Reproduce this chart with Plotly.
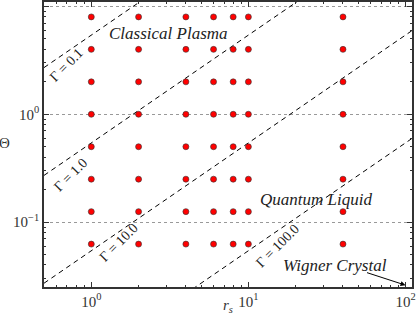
import numpy as np
import plotly.graph_objects as go

# --- data ---
rs_values = [1, 2, 4, 6, 8, 10, 40]
theta_values = [8, 4, 2, 1, 0.5, 0.25, 0.125, 0.0625]

gamma_values = [0.1, 1.0, 10.0, 100.0]
gamma_labels = ["Γ = 0.1", "Γ = 1.0", "Γ = 10.0", "Γ = 100.0"]
line_rs = [0.5, 110]
line_theta_start = [2.71, 0.271, 0.0271, 0.00271]
line_theta_end = [597, 59.7, 5.97, 0.597]

x_tick_vals = [1, 10, 100]
x_tick_text = ["10<sup>0</sup>", "10<sup>1</sup>", "10<sup>2</sup>"]
y_tick_vals = [0.1, 1, 10]
y_tick_text = ["10<sup>−1</sup>", "10<sup>0</sup>", "10<sup>1</sup>"]

SERIF = "Liberation Serif"

fig = go.Figure()

for g, t0, t1 in zip(gamma_values, line_theta_start, line_theta_end):
    fig.add_trace(go.Scatter(
        x=line_rs, y=[t0, t1], mode="lines",
        line=dict(color="black", width=1, dash="5px,4px"),
        hoverinfo="skip", showlegend=False))

gx, gy = np.meshgrid(rs_values, theta_values)
fig.add_trace(go.Scatter(
    x=gx.ravel(), y=gy.ravel(), mode="markers",
    marker=dict(color="#ff0000", size=6, line=dict(color="#333333", width=0.6)),
    showlegend=False, cliponaxis=False))

# label positions (log10 data coords)
label_pos = [(-0.155, 0.46), (-0.13, -0.555), (0.174, -1.19), (1.187, -1.215)]
for (lx, ly), txt in zip(label_pos, gamma_labels):
    fig.add_annotation(x=lx, y=ly, text=txt, showarrow=False, textangle=-45,
                       font=dict(family=SERIF, size=14, color="#222222"))

region_labels = [("<i>Classical Plasma</i>", 0.492, 0.747),
                 ("<i>Quantum Liquid</i>", 1.429, -0.790),
                 ("<i>Wigner Crystal</i>", 1.550, -1.401)]
for txt, lx, ly in region_labels:
    fig.add_annotation(x=lx, y=ly, text=txt, showarrow=False,
                       font=dict(family=SERIF, size=17, color="#222222"))

fig.add_annotation(x=2.0, y=np.log10(0.026), text="", showarrow=True,
                   ax=-40, ay=-13, arrowhead=2, arrowsize=1, arrowwidth=1,
                   arrowcolor="black")

# axis titles
fig.add_annotation(xref="paper", yref="paper", x=0.5, y=-0.066,
                   xanchor="center", yanchor="middle",
                   text="<i>r</i><sub><i>s</i></sub>", showarrow=False,
                   font=dict(family=SERIF, size=15, color="#333333"))
fig.add_annotation(xref="paper", yref="paper", x=-0.106, y=0.505,
                   xanchor="center", yanchor="middle",
                   text="Θ", showarrow=False,
                   font=dict(family=SERIF, size=15, color="#333333"))

axis_common = dict(
    type="log", showline=True, linecolor="#333333", linewidth=1.5,
    mirror="allticks", ticks="inside", ticklen=5, tickcolor="#333333",
    tickfont=dict(family=SERIF, size=15, color="#333333"),
    zeroline=False, automargin=False,
    minor=dict(ticks="inside", ticklen=2.5, tickcolor="#333333", dtick="D1", showgrid=False),
)

fig.update_xaxes(**axis_common, range=[np.log10(0.5), np.log10(110)],
                 tickvals=x_tick_vals, ticktext=x_tick_text, showgrid=False)
fig.update_yaxes(**axis_common, range=[np.log10(0.025), np.log10(11)],
                 tickvals=y_tick_vals, ticktext=y_tick_text, showgrid=True,
                 gridcolor="#999999", griddash="dot", gridwidth=1)

fig.update_layout(
    width=416, height=315,
    margin=dict(l=44, r=4, t=2, b=28),
    plot_bgcolor="white", paper_bgcolor="white",
)

fig.write_html("out.html", config={"displayModeBar": False},
               post_script="document.body.style.margin='0';document.body.style.overflow='hidden';")
